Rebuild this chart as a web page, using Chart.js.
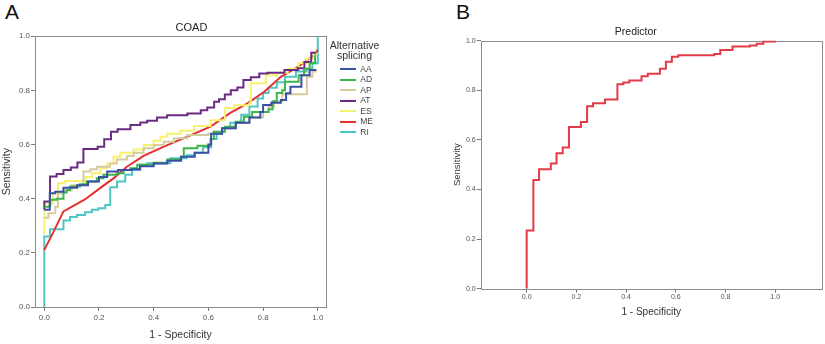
<!DOCTYPE html>
<html>
<head>
<meta charset="utf-8">
<script src="https://cdn.jsdelivr.net/npm/chart.js@4/dist/chart.umd.min.js"></script>
<style>
  html, body { margin: 0; padding: 0; background: #ffffff; }
  body { width: 825px; height: 344px; position: relative; overflow: hidden; font-family: Arial, "Liberation Sans", sans-serif; }
  #cA { position: absolute; left: 0; top: 0; }
  #cB { position: absolute; left: 420px; top: 0; }
  .plabel { position: absolute; font-size: 21px; color: #111; line-height: 1; }
</style>
</head>
<body>
<div class="plabel" style="left:5px; top:1px;">A</div>
<div class="plabel" style="left:456px; top:1px;">B</div>
<canvas id="cA" width="420" height="344"></canvas>
<canvas id="cB" width="405" height="344"></canvas>
<script>
// ---------------- data (ROC points: [1 - specificity, sensitivity]) ----------------
const panelATitle = "COAD";
const panelBTitle = "Predictor";
const legendTitle = ["Alternative", "splicing"];
const seriesNames = ["AA", "AD", "AP", "AT", "ES", "ME", "RI"];
const seriesColors = ["#3a4fa6", "#3db54b", "#d6cb9f", "#6b2b84", "#f6f26e", "#e5302e", "#4ec6c4"];
const tickValues = [0, 0.2, 0.4, 0.6, 0.8, 1.0];

const rocAA = [[0,0.359],[0.02,0.42],[0.04,0.426],[0.07,0.44],[0.12,0.45],[0.16,0.463],[0.2,0.48],[0.23,0.5],[0.27,0.506],[0.32,0.509],[0.35,0.52],[0.4,0.53],[0.45,0.54],[0.5,0.555],[0.55,0.57],[0.6,0.6],[0.61,0.64],[0.65,0.66],[0.7,0.68],[0.75,0.7],[0.79,0.72],[0.8,0.746],[0.83,0.754],[0.865,0.764],[0.884,0.789],[0.9,0.813],[0.94,0.856],[0.97,0.875],[0.995,0.875]];
const rocAD = [[0,0.37],[0.02,0.377],[0.022,0.396],[0.045,0.4],[0.07,0.423],[0.082,0.432],[0.094,0.445],[0.13,0.453],[0.155,0.463],[0.192,0.475],[0.216,0.488],[0.265,0.494],[0.29,0.506],[0.314,0.512],[0.34,0.525],[0.4,0.533],[0.45,0.545],[0.5,0.555],[0.51,0.586],[0.56,0.595],[0.608,0.62],[0.62,0.647],[0.66,0.666],[0.7,0.684],[0.73,0.703],[0.76,0.72],[0.82,0.73],[0.835,0.76],[0.85,0.79],[0.87,0.8],[0.88,0.832],[0.93,0.856],[0.95,0.88],[0.97,0.9],[0.99,0.93]];
const rocAP = [[0,0.33],[0.015,0.346],[0.04,0.37],[0.05,0.42],[0.07,0.43],[0.1,0.45],[0.143,0.5],[0.168,0.509],[0.193,0.518],[0.24,0.53],[0.265,0.545],[0.302,0.558],[0.327,0.57],[0.363,0.586],[0.4,0.598],[0.437,0.61],[0.474,0.623],[0.523,0.635],[0.6,0.64],[0.62,0.647],[0.66,0.66],[0.7,0.68],[0.75,0.7],[0.8,0.72],[0.82,0.74],[0.84,0.76],[0.87,0.786],[0.95,0.786],[0.96,0.85],[0.98,0.87],[0.995,0.87]];
const rocAT = [[0,0.36],[0,0.39],[0.021,0.482],[0.045,0.491],[0.07,0.506],[0.097,0.515],[0.121,0.534],[0.143,0.583],[0.195,0.592],[0.219,0.619],[0.244,0.647],[0.268,0.656],[0.315,0.672],[0.351,0.681],[0.376,0.688],[0.412,0.7],[0.449,0.708],[0.523,0.715],[0.572,0.727],[0.596,0.737],[0.621,0.758],[0.639,0.767],[0.66,0.785],[0.682,0.8],[0.706,0.811],[0.728,0.838],[0.755,0.848],[0.786,0.862],[0.816,0.865],[0.878,0.875],[0.927,0.882],[0.951,0.905],[0.976,0.939],[0.994,0.939]];
const rocES = [[0,0.27],[0,0.383],[0.032,0.42],[0.05,0.457],[0.075,0.465],[0.15,0.48],[0.175,0.494],[0.205,0.512],[0.23,0.53],[0.253,0.555],[0.278,0.57],[0.327,0.582],[0.364,0.598],[0.4,0.614],[0.425,0.629],[0.449,0.64],[0.498,0.651],[0.547,0.668],[0.608,0.69],[0.66,0.735],[0.694,0.745],[0.75,0.752],[0.755,0.826],[0.81,0.856],[0.85,0.865],[0.89,0.88],[0.93,0.9],[0.96,0.918],[0.985,0.936],[0.995,0.94]];
const rocME = [[0,0.211],[0.03,0.27],[0.07,0.353],[0.15,0.398],[0.204,0.439],[0.253,0.475],[0.302,0.518],[0.363,0.558],[0.437,0.592],[0.523,0.629],[0.608,0.666],[0.68,0.717],[0.743,0.752],[0.804,0.795],[0.865,0.85],[0.927,0.887],[0.988,0.93],[1.0,0.95]];
const rocRI = [[0,0],[0,0.26],[0.021,0.287],[0.07,0.319],[0.094,0.332],[0.119,0.34],[0.149,0.35],[0.174,0.359],[0.198,0.365],[0.223,0.377],[0.241,0.442],[0.266,0.463],[0.296,0.488],[0.321,0.506],[0.351,0.525],[0.376,0.531],[0.461,0.549],[0.52,0.56],[0.55,0.57],[0.58,0.59],[0.61,0.62],[0.63,0.64],[0.65,0.66],[0.68,0.68],[0.72,0.71],[0.75,0.74],[0.78,0.77],[0.8,0.79],[0.82,0.81],[0.85,0.83],[0.88,0.85],[0.92,0.87],[0.96,0.88],[0.98,0.9],[1.0,0.9],[1.0,1.0]];
const rocPredictor = [[0,0],[0,0.235],[0.027,0.438],[0.05,0.481],[0.097,0.505],[0.12,0.546],[0.145,0.569],[0.17,0.652],[0.218,0.672],[0.243,0.735],[0.267,0.747],[0.315,0.763],[0.365,0.824],[0.389,0.831],[0.413,0.839],[0.462,0.856],[0.487,0.866],[0.536,0.887],[0.56,0.915],[0.584,0.935],[0.61,0.941],[0.755,0.946],[0.779,0.962],[0.828,0.976],[0.898,0.98],[0.925,0.987],[0.952,0.996],[1.0,1.0]];

const seriesA = [rocAA, rocAD, rocAP, rocAT, rocES, rocME, rocRI];
const steppedA = ["before", "before", "before", "before", "before", false, "before"];

// ---------------- helpers ----------------
const FONT = 'Arial, "Liberation Sans", sans-serif';
const toXY = arr => arr.map(p => ({ x: p[0], y: p[1] }));

// legend marker: a short line on the right part of a small transparent image
function legendMarker(color) {
  const c = document.createElement('canvas');
  c.width = 28; c.height = 2;
  const g = c.getContext('2d');
  g.fillStyle = color;
  g.fillRect(12, 0, 16, 2);
  return c;
}

const framePlugin = {
  id: 'frame',
  beforeDatasetsDraw(chart) {
    const a = chart.chartArea, ctx = chart.ctx;
    ctx.save();
    ctx.strokeStyle = '#8c8c8c';
    ctx.lineWidth = 1;
    ctx.strokeRect(Math.round(a.left) + 0.5, Math.round(a.top) + 0.5, Math.round(a.right - a.left), Math.round(a.bottom - a.top));
    ctx.restore();
  }
};

function axisCommon(fontSize, tickPad, titleText, titleSize, titlePad, fitSize, isX) {
  return {
    type: 'linear',
    afterBuildTicks: s => { s.ticks = tickValues.map(v => ({ value: v })); },
    ticks: { callback: v => Number(v).toFixed(1), font: { family: FONT, size: fontSize }, color: '#555', padding: tickPad, maxRotation: 0, autoSkip: false },
    grid: { display: true, drawOnChartArea: false, drawTicks: true, tickLength: 4, color: '#777', lineWidth: 1 },
    border: { display: false },
    title: { display: true, text: titleText, font: { family: FONT, size: titleSize }, color: '#333', padding: titlePad },
    afterFit: s => { if (isX) s.height = fitSize; else s.width = fitSize; }
  };
}

// ---------------- Panel A ----------------
const dsA = seriesNames.map((n, i) => ({
  label: n,
  data: toXY(seriesA[i]),
  borderColor: seriesColors[i],
  backgroundColor: seriesColors[i],
  borderWidth: 2,
  pointRadius: 0,
  fill: false,
  tension: 0,
  stepped: steppedA[i]
}));

const xA = axisCommon(8, 2, '1 - Specificity', 10.5, { top: 0, bottom: 3 }, 37, true);
xA.min = -0.034; xA.max = 1.03;
const yA = axisCommon(8, 1, 'Sensitivity', 10.5, { top: 1, bottom: 0 }, 35, false);
yA.min = 0; yA.max = 1;

new Chart(document.getElementById('cA'), {
  type: 'line',
  data: { datasets: dsA },
  options: {
    responsive: false,
    animation: false,
    layout: { padding: { left: 0, right: 37, top: 0, bottom: 0 } },
    scales: { x: xA, y: yA },
    plugins: {
      title: { display: true, text: panelATitle, font: { family: FONT, size: 11, weight: 'normal' }, color: '#222', padding: { top: 21, bottom: 2 } },
      legend: {
        display: true,
        position: 'right',
        align: 'start',
        fullSize: false,
        title: { display: true, text: legendTitle, font: { family: FONT, size: 10.5, lineHeight: 0.95 }, color: '#333', padding: { top: 4.3, bottom: 12.45 } },
        labels: {
          usePointStyle: true,
          pointStyleWidth: 28,
          boxHeight: 2,
          padding: 2,
          font: { family: FONT, size: 8.5 },
          color: '#444',
          generateLabels: chart => Chart.defaults.plugins.legend.labels.generateLabels(chart).map((l, i) => Object.assign(l, { lineWidth: 0, pointStyle: legendMarker(seriesColors[i]) }))
        }
      },
      tooltip: { enabled: false }
    }
  },
  plugins: [framePlugin]
});

// ---------------- Panel B ----------------
const xB = axisCommon(7, 0.5, '1 - Specificity', 10, { top: 0, bottom: 0.5 }, 30.3, true);
xB.min = -0.185; xB.max = 1.187;
const yB = axisCommon(7, 1, 'Sensitivity', 9.5, { top: 1.3, bottom: 0 }, 30.7, false);
yB.min = 0; yB.max = 1;

new Chart(document.getElementById('cB'), {
  type: 'line',
  data: { datasets: [{
    label: panelBTitle,
    data: toXY(rocPredictor),
    borderColor: '#e23a46',
    borderWidth: 2,
    pointRadius: 0,
    fill: false,
    stepped: 'before'
  }] },
  options: {
    responsive: false,
    animation: false,
    layout: { padding: { left: 30, right: 3.3, top: 0, bottom: 25 } },
    scales: { x: xB, y: yB },
    plugins: {
      title: { display: true, text: panelBTitle, font: { family: FONT, size: 10.5, weight: 'normal' }, color: '#222', padding: { top: 26, bottom: 2 } },
      legend: { display: false },
      tooltip: { enabled: false }
    }
  },
  plugins: [framePlugin]
});
</script>
</body>
</html>
